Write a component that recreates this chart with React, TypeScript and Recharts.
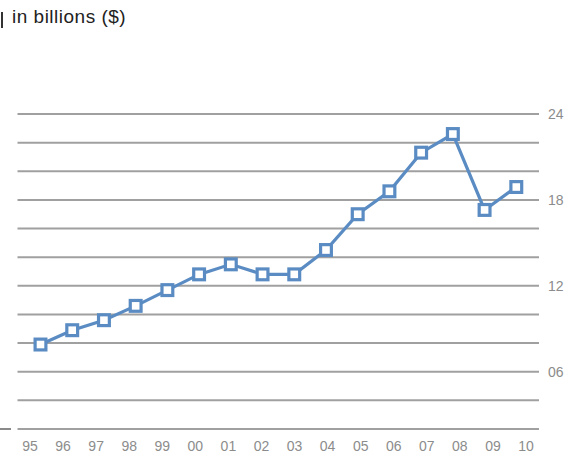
import React from 'react';
import { LineChart, Line, XAxis, YAxis, CartesianGrid } from 'recharts';

// years shown on the x axis
const years = ['95', '96', '97', '98', '99', '00', '01', '02', '03', '04', '05', '06', '07', '08', '09', '10'];
// values in billions ($)
const spending = [7.9, 8.9, 9.6, 10.6, 11.7, 12.8, 13.5, 12.8, 12.8, 14.5, 17.0, 18.6, 21.3, 22.6, 17.3, 18.9];
// horizontal grid lines; only multiples of 6 get a label
const yTicks = [2, 4, 6, 8, 10, 12, 14, 16, 18, 20, 22, 24];

const chartData = years.map((year, i) => ({ year, value: spending[i] }));

const BLUE = '#5a8cc3';

const SquareDot = (props: any) => {
  const { cx, cy, index } = props;
  if (cx == null || cy == null) return <g key={`d-${index}`} />;
  return (
    <rect
      key={`d-${index}`}
      x={cx - 5.4}
      y={cy - 5.4}
      width={10.8}
      height={10.8}
      fill="#fff"
      stroke={BLUE}
      strokeWidth={3.2}
    />
  );
};

const App: React.FC = () => {
  return (
    <div style={{ position: 'absolute', top: 0, left: 0, width: 567, height: 455, background: '#fff' }}>
      <div style={{ position: 'absolute', left: 1, top: 12, width: 2, height: 16, background: '#333' }} />
      <div
        style={{
          position: 'absolute',
          left: 12,
          top: 6,
          fontFamily: '"Liberation Sans", Arial, sans-serif',
          fontSize: 19,
          letterSpacing: 0.5,
          color: '#222',
          lineHeight: '22px'
        }}
      >
        in billions ($)
      </div>
      <div style={{ position: 'absolute', left: 0, top: 428, width: 11, height: 2, background: '#8a8a8a' }} />
      <LineChart
        width={567}
        height={455}
        data={chartData}
        margin={{ top: 114, right: 0, left: 17.5, bottom: 0 }}
      >
        <CartesianGrid xAxisId="lbl" vertical={false} stroke="#a0a0a0" strokeWidth={2} />
        <XAxis
          xAxisId="lbl"
          dataKey="year"
          scale="point"
          padding={{ left: 12.5, right: 13 }}
          axisLine={false}
          tickLine={false}
          tickSize={0}
          tickMargin={12}
          height={26}
          interval={0}
          tick={{ fill: '#8c8c8c', fontSize: 14, fontFamily: '"Liberation Sans", Arial, sans-serif' }}
        />
        <XAxis xAxisId="pts" dataKey="year" scale="point" padding={{ left: 23, right: 22.7 }} hide />
        <YAxis
          orientation="right"
          type="number"
          domain={[2, 24]}
          ticks={yTicks}
          interval={0}
          width={28}
          axisLine={false}
          tickLine={false}
          tickSize={0}
          tickMargin={9}
          tickFormatter={(v: number) => (v % 6 === 0 ? String(v).padStart(2, '0') : '')}
          tick={{ fill: '#8c8c8c', fontSize: 14, fontFamily: '"Liberation Sans", Arial, sans-serif', textAnchor: 'start' }}
        />
        <Line
          xAxisId="pts"
          type="linear"
          dataKey="value"
          stroke={BLUE}
          strokeWidth={3.2}
          dot={SquareDot}
          activeDot={false}
          isAnimationActive={false}
        />
      </LineChart>
    </div>
  );
};

export default App;
